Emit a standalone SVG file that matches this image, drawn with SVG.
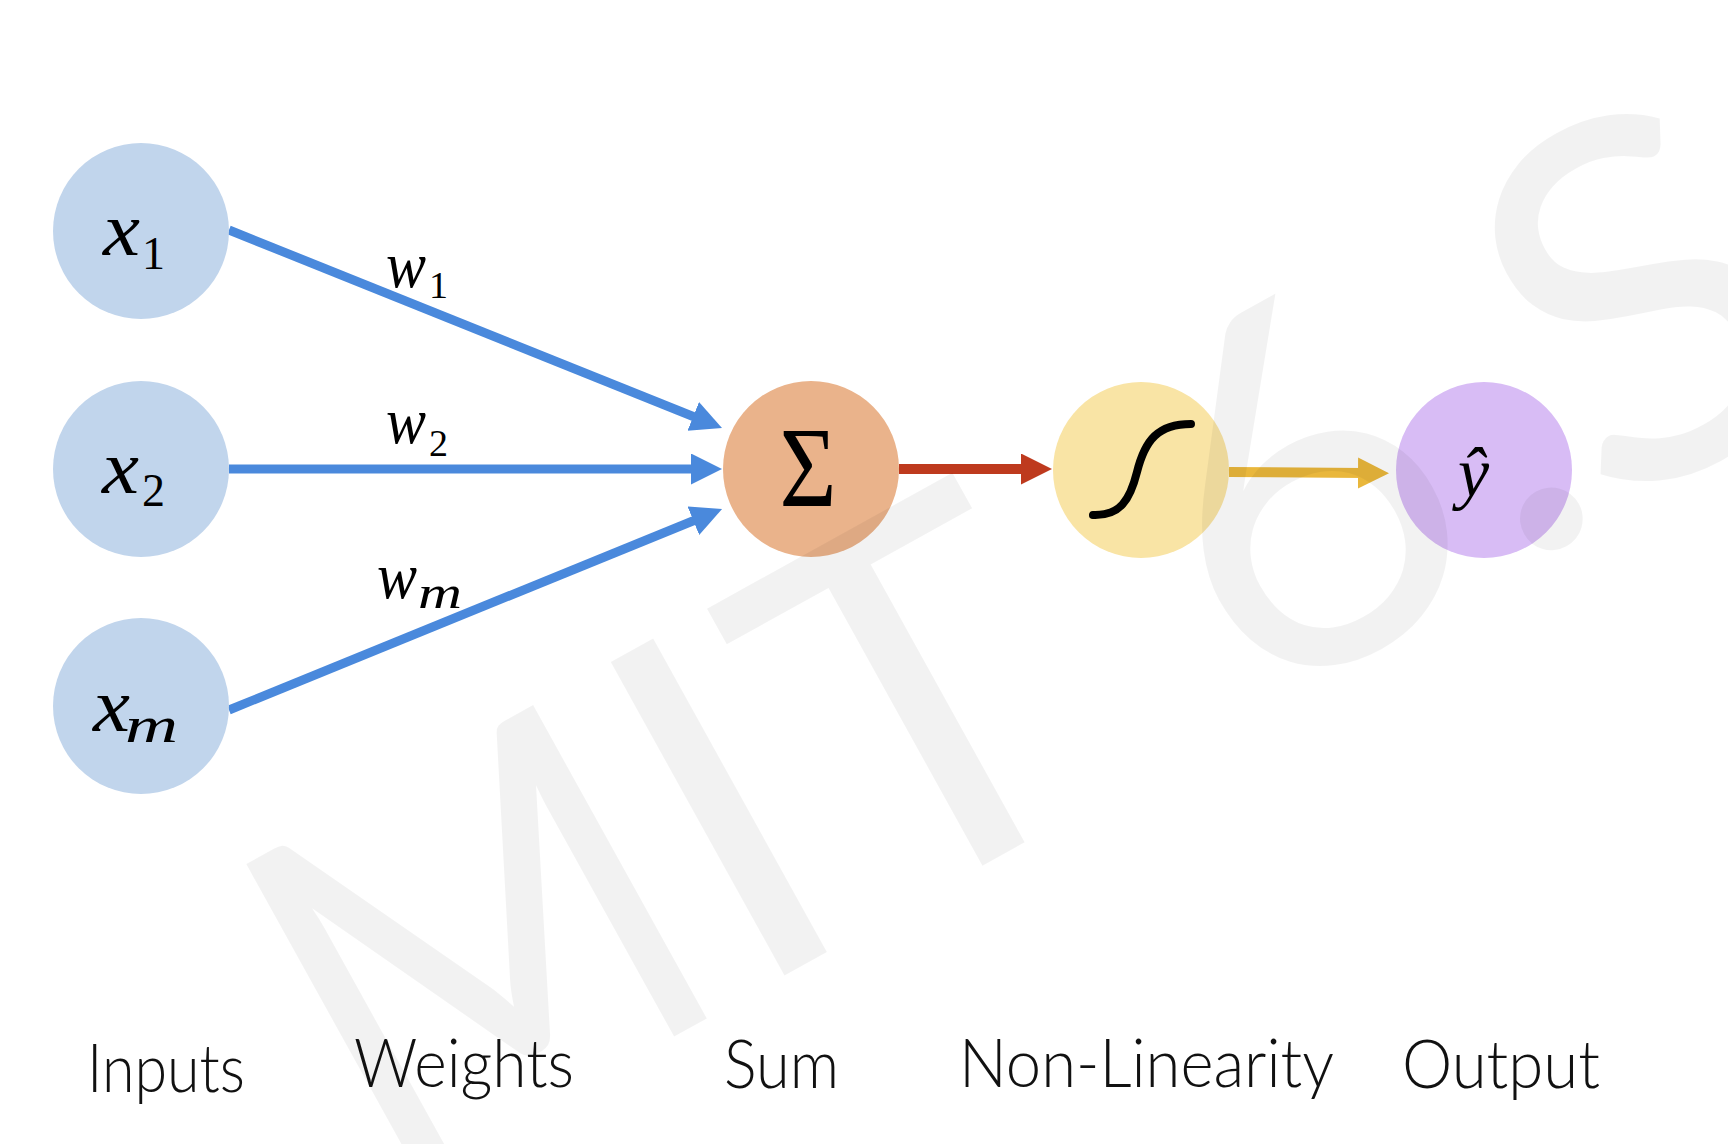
<svg xmlns="http://www.w3.org/2000/svg" width="1728" height="1144" viewBox="0 0 1728 1144">
  <defs>
    <style>
      .in { fill: #C1D5EC; }
      .mi { font-family: "Liberation Serif", serif; font-style: italic; fill: #000; }
      .up { font-family: "Liberation Serif", serif; font-style: normal; fill: #000; }
      .lbl { font-family: Lato, "Open Sans", sans-serif; font-weight: 300; font-size: 67px; fill: #111; }
      .blue { stroke: #4A89DC; stroke-width: 9; fill: none; }
      .wm { font-family: Lato, sans-serif; font-weight: 400; font-size: 500px; fill: #000; fill-opacity: 0.05; }
    </style>
    <marker id="ab" markerUnits="userSpaceOnUse" markerWidth="32" markerHeight="32" refX="6" refY="15.5" orient="auto">
      <path d="M0,0 L31,15.5 L0,31 Z" fill="#4A89DC"/>
    </marker>
    <marker id="ar" markerUnits="userSpaceOnUse" markerWidth="32" markerHeight="32" refX="6" refY="15.5" orient="auto">
      <path d="M0,0 L31,15.5 L0,31 Z" fill="#BE3A1E"/>
    </marker>
    <marker id="ay" markerUnits="userSpaceOnUse" markerWidth="32" markerHeight="32" refX="6" refY="15.5" orient="auto">
      <path d="M0,0 L31,15.5 L0,31 Z" fill="#E9B73C"/>
    </marker>
  </defs>
  <rect width="1728" height="1144" fill="#fff"/>

  <g id="connectors">
    <line class="blue" x1="229" y1="230" x2="698.8" y2="418.7" marker-end="url(#ab)"/>
    <line class="blue" x1="229" y1="469" x2="697" y2="469" marker-end="url(#ab)"/>
    <line class="blue" x1="229" y1="710" x2="698.9" y2="518.5" marker-end="url(#ab)"/>
    <line x1="899" y1="469" x2="1027" y2="469" stroke="#BE3A1E" stroke-width="10" marker-end="url(#ar)"/>
    <line x1="1229" y1="472" x2="1364" y2="473" stroke="#E9B73C" stroke-width="10" marker-end="url(#ay)"/>
  </g>

  <g id="weight-labels">
    <text class="mi" x="386" y="287" font-size="65" textLength="40" lengthAdjust="spacingAndGlyphs">w</text>
    <text class="up" x="429" y="298" font-size="38">1</text>
    <text class="mi" x="386" y="443" font-size="65" textLength="40" lengthAdjust="spacingAndGlyphs">w</text>
    <text class="up" x="429" y="456" font-size="38">2</text>
    <text class="mi" x="377" y="598" font-size="65" textLength="40" lengthAdjust="spacingAndGlyphs">w</text>
    <text class="mi" x="418" y="608" font-size="46" textLength="44" lengthAdjust="spacingAndGlyphs">m</text>
  </g>

  <g id="node-x1">
    <circle class="in" cx="141" cy="231" r="88"/>
    <text class="mi" x="103" y="255" font-size="76" textLength="37" lengthAdjust="spacingAndGlyphs">x</text>
    <text class="up" x="142" y="269" font-size="46">1</text>
  </g>
  <g id="node-x2">
    <circle class="in" cx="141" cy="469" r="88"/>
    <text class="mi" x="102" y="493" font-size="76" textLength="37" lengthAdjust="spacingAndGlyphs">x</text>
    <text class="up" x="142" y="506" font-size="46">2</text>
  </g>
  <g id="node-xm">
    <circle class="in" cx="141" cy="706" r="88"/>
    <text class="mi" x="93" y="731" font-size="76" textLength="37" lengthAdjust="spacingAndGlyphs">x</text>
    <text class="mi" x="125" y="742" font-size="50" textLength="53" lengthAdjust="spacingAndGlyphs">m</text>
  </g>
  <g id="node-sum">
    <circle cx="811" cy="469" r="88" fill="#EAB38B"/>
    <text class="up" x="808" y="506" font-size="114" text-anchor="middle" textLength="57" lengthAdjust="spacingAndGlyphs">Σ</text>
  </g>
  <g id="node-nonlinearity">
    <circle cx="1141" cy="470" r="88" fill="#F9E4A5"/>
    <path d="M1093,515 C1120,516 1130,500 1137,472 C1145,440 1158,424 1191,424" fill="none" stroke="#000" stroke-width="8" stroke-linecap="round"/>
  </g>
  <g id="node-output">
    <circle cx="1484" cy="470" r="88" fill="#D8BCF5"/>
    <text class="mi" x="1458" y="496" font-size="70">ŷ</text>
  </g>

  <g id="captions">
    <text class="lbl" x="87" y="1092" textLength="158" lengthAdjust="spacingAndGlyphs">Inputs</text>
    <text class="lbl" x="354" y="1087" textLength="220" lengthAdjust="spacingAndGlyphs">Weights</text>
    <text class="lbl" x="724" y="1088" textLength="115" lengthAdjust="spacingAndGlyphs">Sum</text>
    <text class="lbl" x="959" y="1087" textLength="375" lengthAdjust="spacingAndGlyphs">Non-Linearity</text>
    <text class="lbl" x="1402" y="1088" textLength="198" lengthAdjust="spacingAndGlyphs">Output</text>
  </g>

  <g id="watermark" transform="translate(394,1209) rotate(-29)">
    <text class="wm" transform="translate(202,-15) scale(0.88,1)" x="0" y="0" text-anchor="middle">M</text>
    <text class="wm" x="479" y="-15" text-anchor="middle">I</text>
    <text class="wm" x="705" y="-15" text-anchor="middle">T</text>
    <text class="wm" x="1135" y="-15" text-anchor="middle">6</text>
    <text class="wm" x="1347" y="-15" text-anchor="middle">.</text>
    <text class="wm" x="1395" y="-15">S191</text>
  </g>
</svg>
